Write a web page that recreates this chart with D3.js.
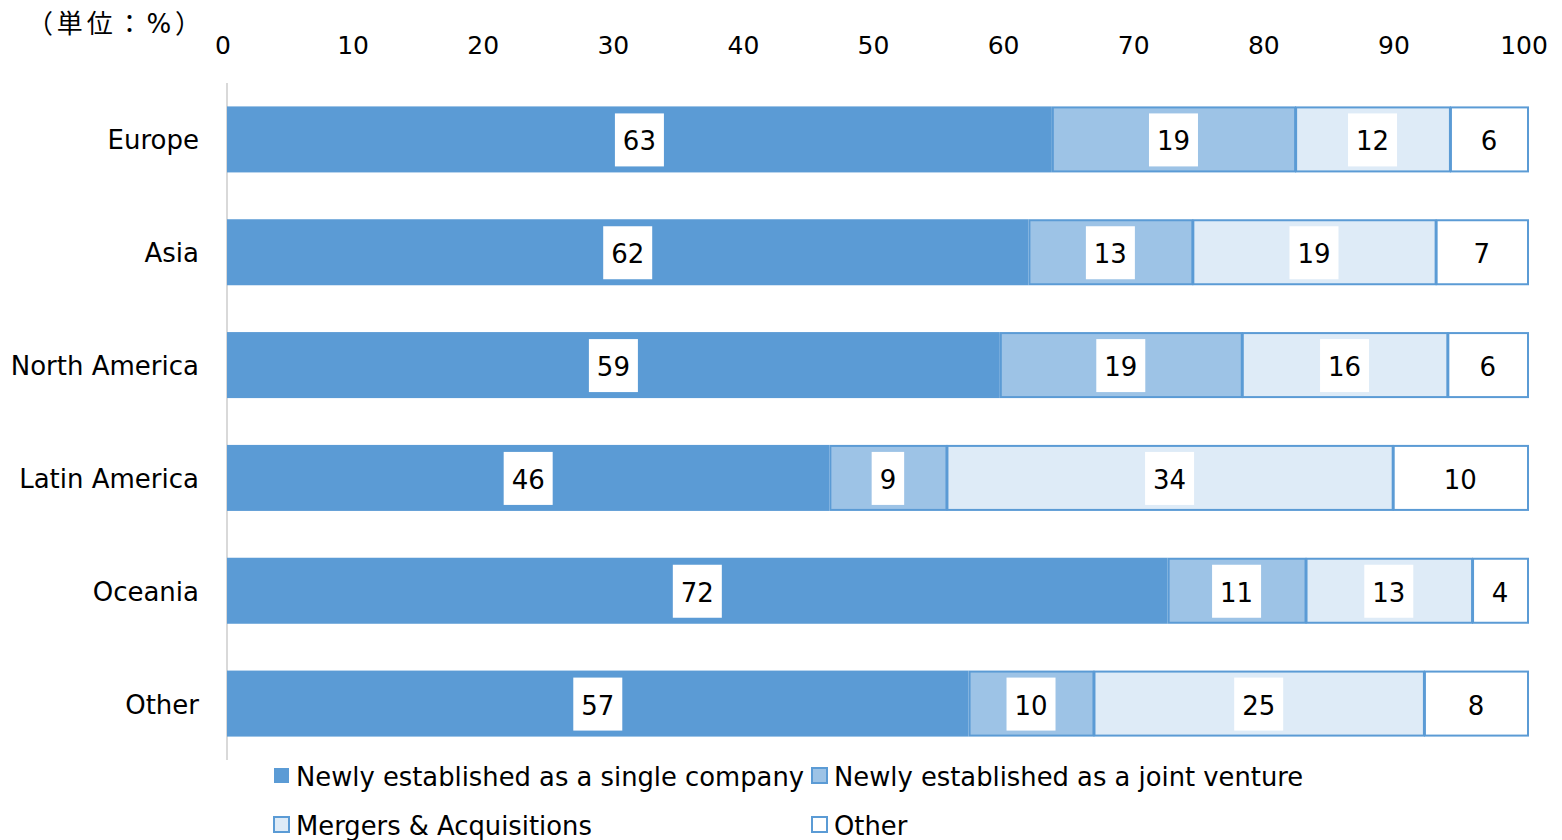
<!DOCTYPE html>
<html><head><meta charset="utf-8">
<script src="https://cdn.jsdelivr.net/npm/d3@7"></script>
<style>body{margin:0;background:#fff;} text{font-family:"DejaVu Sans","Noto Sans CJK JP",sans-serif;}</style>
</head><body>
<svg id="c" width="1562" height="840"></svg>
<script>
const categories = ["Europe","Asia","North America","Latin America","Oceania","Other"];
const seriesNames = ["Newly established as a single company","Newly established as a joint venture","Mergers & Acquisitions","Other"];
const single = [63.4, 61.6, 59.4, 46.3, 72.3, 57.0];
const joint  = [18.7, 12.6, 18.6, 9.0, 10.6, 9.6];
const ma     = [11.9, 18.7, 15.8, 34.3, 12.8, 25.4];
const other  = [6.0, 7.1, 6.2, 10.4, 4.3, 8.0];
const tickValues = [0,10,20,30,40,50,60,70,80,90,100];
const unitLabel = "（単位：%）";
const colors = ["#5B9BD5","#9DC3E6","#DEEBF7","#FFFFFF"];

const svg = d3.select("#c");
const x = d3.scaleLinear().domain([0,100]).range([227,1528]);
const y = d3.scaleBand().domain(categories).range([83,760]).paddingInner(0.415).paddingOuter(0.2075);

const rows = categories.map((c,i)=>({cat:c, vals:[single[i],joint[i],ma[i],other[i]]}));
const stack = d3.stack().keys([0,1,2,3]).value((d,k)=>d.vals[k]);
const layers = stack(rows);

// axis line
svg.append("line").attr("x1",x(0)).attr("x2",x(0)).attr("y1",83).attr("y2",760)
  .attr("stroke","#d9d9d9").attr("stroke-width",2);

// top axis ticks
svg.append("g").selectAll("text").data(tickValues).join("text")
  .attr("x",d=>x(d)-4).attr("y",54).attr("text-anchor","middle")
  .attr("font-size",25).attr("fill","#000").text(d=>d);

svg.append("text").attr("x",27).attr("y",33).attr("font-size",26)
  .attr("font-family","'Noto Sans CJK JP',sans-serif")
  .attr("textLength",174).attr("lengthAdjust","spacing")
  .attr("fill","#000").text(unitLabel);

// category labels
svg.append("g").selectAll("text").data(categories).join("text")
  .attr("x",199).attr("y",d=>y(d)+y.bandwidth()/2+10).attr("text-anchor","end")
  .attr("font-size",26).attr("fill","#000").text(d=>d);

layers.forEach((layer,k)=>{
  const g = svg.append("g");
  g.selectAll("rect").data(layer).join("rect")
    .attr("x",d=>x(d[0]) + (k>0?1:0))
    .attr("y",d=>y(d.data.cat) + (k>0?1:0))
    .attr("width",d=>x(d[1])-x(d[0]) - (k>0?1:0))
    .attr("height",y.bandwidth() - (k>0?2:0))
    .attr("fill",colors[k])
    .attr("stroke",k>0?colors[0]:"none").attr("stroke-width",2);
});

layers.forEach((layer,k)=>{
  const g = svg.append("g");
  layer.forEach(d=>{
    const cx = (x(d[0])+x(d[1]))/2;
    const cy = y(d.data.cat)+y.bandwidth()/2;
    const t = Math.round(d[1]-d[0]).toString();
    const w = t.length*16.5+16;
    if(k<3) g.append("rect").attr("x",cx-w/2).attr("y",cy-26).attr("width",w).attr("height",53).attr("fill","#fff");
    g.append("text").attr("x",cx).attr("y",cy+11).attr("text-anchor","middle")
      .attr("font-size",26).attr("fill","#000").text(t);
  });
});

// legend
const legPos = [[273,776],[811,776],[273,825],[811,825]];
seriesNames.forEach((n,k)=>{
  const [lx,ly] = legPos[k];
  svg.append("rect").attr("x",lx+1).attr("y",ly-8).attr("width",15).attr("height",15)
    .attr("fill",colors[k]).attr("stroke",colors[0]).attr("stroke-width",k>0?2:0);
  svg.append("text").attr("x",lx+23).attr("y",ly+10).attr("font-size",25.8).attr("fill","#000").text(n);
});
</script>
</body></html>
